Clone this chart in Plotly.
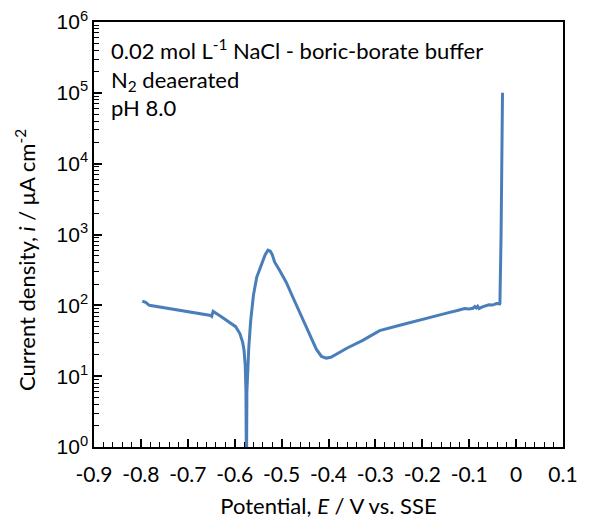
import plotly.graph_objects as go

# Polarization curve (potential in V vs. SSE, current density in µA cm^-2)
potential = [-0.797, -0.790, -0.782, -0.760, -0.720, -0.680, -0.651, -0.649, -0.646,
             -0.630, -0.611, -0.598, -0.589, -0.583, -0.580, -0.5775, -0.576, -0.575,
             -0.574, -0.5725, -0.570, -0.566, -0.560, -0.553, -0.543, -0.535, -0.529,
             -0.524, -0.520, -0.515, -0.504, -0.490, -0.476, -0.460, -0.447, -0.435,
             -0.426, -0.415, -0.405, -0.395, -0.384, -0.360, -0.327, -0.300, -0.291,
             -0.250, -0.200, -0.150, -0.121, -0.110, -0.100, -0.092, -0.088, -0.085,
             -0.082, -0.079, -0.072, -0.065, -0.058, -0.050, -0.042, -0.035, -0.0345,
             -0.032, -0.030, -0.029]
current = [115, 110, 100, 95, 86, 78, 72, 70, 82,
           70, 58, 50, 40, 30, 23, 14, 6, 0.3,
           6, 12, 25, 60, 140, 250, 390, 520, 600,
           580, 520, 410, 310, 210, 130, 75, 49, 32,
           24, 19, 18, 18.5, 20.5, 25, 32, 40, 44,
           52, 64, 77, 86, 90, 89, 91, 96, 92,
           97, 90, 95, 98, 102, 101, 106, 105, 108,
           1000, 30000, 100000]

x_tickvals = [-0.9, -0.8, -0.7, -0.6, -0.5, -0.4, -0.3, -0.2, -0.1, 0, 0.1]
x_ticktext = ["-0.9", "-0.8", "-0.7", "-0.6", "-0.5", "-0.4", "-0.3", "-0.2", "-0.1", "0", "0.1"]
decades = [0, 1, 2, 3, 4, 5, 6]
y_tickvals = [10 ** d for d in decades]
y_ticktext = ["10<sup>%d</sup>" % d for d in decades]
y_minorvals = [m * 10 ** d for d in decades[:-1] for m in range(2, 10)]

FONT = "Lato"
NUMFONT = "Liberation Sans"

fig = go.Figure()
fig.add_trace(go.Scatter(x=potential, y=current, mode="lines",
                         line=dict(color="#4a7ebb", width=3), showlegend=False))

fig.update_layout(
    xaxis=dict(range=[-0.9, 0.1], tickvals=x_tickvals, ticktext=x_ticktext,
               ticks="inside", ticklen=8, tickwidth=1.5, tickcolor="black",
               minor=dict(ticks="inside", ticklen=5, dtick=0.02, tick0=-0.9,
                          tickcolor="black", tickwidth=1.2),
               showline=True, linecolor="black", linewidth=1.5, mirror=True,
               showgrid=False, zeroline=False, ticklabelstandoff=8,
               tickfont=dict(family=FONT, size=21, color="black"),
               title=dict(text="Potential, <i>E</i> / V vs. SSE",
                          font=dict(family=FONT, size=22, color="black"), standoff=14)),
    yaxis=dict(type="log", range=[0, 6], tickmode="array",
               tickvals=y_tickvals, ticktext=y_ticktext,
               ticks="inside", ticklen=8, tickwidth=1.5, tickcolor="black",
               minor=dict(tickmode="array", tickvals=y_minorvals, ticks="inside",
                          ticklen=5, tickwidth=1.2, tickcolor="black"),
               showline=True, linecolor="black", linewidth=1.5, mirror=True,
               showgrid=False, zeroline=False, automargin=False,
               tickfont=dict(family=NUMFONT, size=21, color="black")),
    width=590, height=527, margin=dict(l=94, r=25, t=22, b=80),
    plot_bgcolor="white", paper_bgcolor="white",
)

fig.add_annotation(xref="paper", yref="paper", x=-0.147, y=0.44, xanchor="center", yanchor="middle",
                   textangle=-90, showarrow=False,
                   text="Current density, <i>i</i> / μA cm<sup>-2</sup>",
                   font=dict(family=FONT, size=22, color="black"))

fig.add_annotation(xref="paper", yref="paper", x=0.033, y=0.975, xanchor="left", yanchor="top",
                   align="left", showarrow=False,
                   text="0.02 mol L<sup>-1</sup> NaCl - boric-borate buffer<br>N<sub>2</sub> deaerated<br>pH 8.0",
                   font=dict(family=FONT, size=22, color="black"))

fig.write_html("out.html")
